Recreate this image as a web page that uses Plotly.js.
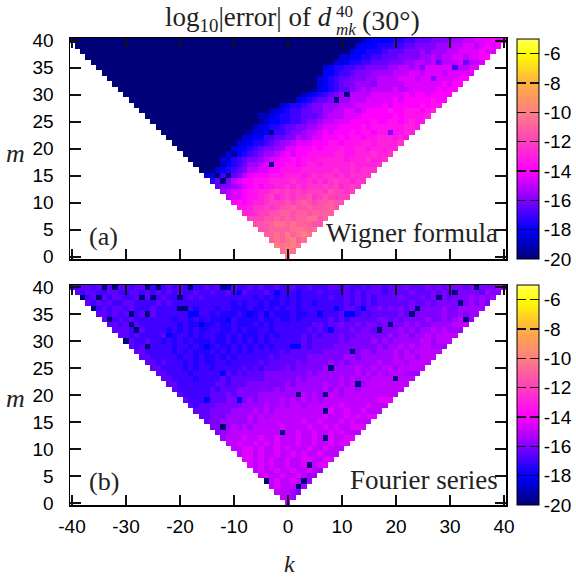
<!DOCTYPE html>
<html><head><meta charset="utf-8">
<script src="https://cdn.plot.ly/plotly-3.0.1.min.js"></script>
<style>html,body{margin:0;padding:0;background:#fff}
.cbaxis path.ticks{stroke-dasharray:9 4 9}</style></head>
<body><div id="plot" style="width:576px;height:579px"></div>
<script>
// one character per cell, base 36: value = -20 + char/2; rows run from m=40 down to m=0
var wignerRows=["2344445566777888899aabbbcbc","344455566778888999aabbabcbc","344555677788898999aabbbbcbb","33445566777888899a9aabbabbcc","334556677788899aa9abaaabbaab","34556677888899aa9aabbbbbbaabb","4456678889999aaabbabbbabbbbb","34567788899aaaabbbabbbbbbbcc","34567889999aaaaabbbbbbbcbcc","34567789a9aaaabaabbbbbcbcc","23456789aaaaabbbbbbcbccbcccc","3456778899aaabbbbbcbcccccdcc","34556788999aaabbbbbcbcccccdcdd","234566778899aabbabccccdccdddcde","2234556677789aaabbbccccccdcdddde","234455667889aabbbccccdccddcdedd","234556778899abbbccccdcddddddeed","23345667889aabcbcccdcddcddeddee","3344667788a9abbcccdcddcddeeeded","3345567899abbbcccddcdddeedeeeef","3445678899bbcccdcdddeddeedeeeee","344567899abcbccdddddeeddeeefeef","33567889abbccdcdddeeeeedeeefeef","2456799abbccddcdeedeeeeefeeeef","345678aabbccddddeeeeeefeefefff","3346778abcccdddeeedefeffefeffff","35788abccdddeeeefeefefefgffeff","7889abcdcddeefefefffgfgefgf","9abbcddeefgfgfgfgggfhggfg","abbcddefgefgfgghfghgggg","cdcdeefggghghihghhihh","ddeffgfghhihhihhiih","eefgghhiihiihiiii","ggghhihihiijjhi","hhiijjijiiihh","hhiiiijjjij","iijikijkj","ijijkij","kjkkj","jkj","k"];
var fourierRows=["76776767677677767676767667677676676766766766766677676676776777877787878887898889","7677667766776767676766766766766766676566656667666676767776777787778787888887988","76777677667676676666767666666666565656565666667667676767777877787888788898989","767676677666676766666666666565665655656566566666767676777777877878888889898","7676776766676666656566656655565565656656666667677677787878788888898899","77676766767666666566656555654565655565566666676767677777878888889889899","776767666666656656565554655556556556566666767677777887878888988989a9","7767676666666565565565565556565666666677677877878878888989889999a","77766766665656565566556565566566666676767777878878888989899a9a9","776766667656656566556565556565666676767778778888889899899a9aa","7766766565656555655656565656666667677777878888989899999aa9a","76776666566565656556565656566676767777888888889899a9a9aa9","776666656565556565656566666767777778888888998999a9a9aaa","77666665665655656566666676777778888888998999999a9aa9a","7767666565655665666667677777878888989899999a99aa9aa","77666656566566666767677778788888989999a99a9aa9aa","7766665666666767677788888888989999999a9a9a9aaa9","776666566667677777788888898999999a9a9a9aaaaaaa","77666666677677788888889899999a99a9aa9aaaaaaa","7666666767778888888989999999a9a9aa9aaaaaaa","76666677787888899999999a9a9aaa9aaaaaaaa","766677778888989999a9a9a9a9aaaaaaaaaab","76777888889999a99a9aa9aaaaaabaaaaba","77788889999a9a9aaaaaaaaaabaabaaba","778889999a9a9aaaaaaaaaabaaababab","78899999a9aaaaaaaabaabaaababa","8899a9a9aaaaabaaaabaababaab","899aaaaaaaaabaabaabaababa","9aaabaabaabaaabaabaabaab","aabaabababaaabaabaabab","aabbabaababaaabaabaa","abbabaabaababaabaa","bbababaabaabbaab","bababaabaabaab","abaabaabaaba9","abaabaaba99","aabaaba99","abaaa99","aaa98","aa9","a"];
// isolated cells: [k, m, value]
var wignerSpots=[[-3,17,-20],[-3,23,-20],[-5,25,-19.5],[-10,19,-19.5],[-13,15,-20],[-11,15,-20],[-12,14,-20],[11,30,-20],[9,29,-20],[5,31,-19.5],[19,23,-16],[28,36,-16.5],[27,33,-16],[31,35,-17],[33,36,-16.5],[25,35,-16],[16,32,-16]];
var fourierSpots=[[-34,40,-20],[-32,40,-20],[-26,40,-20],[-24,40,-20],[-18,40,-20],[-12,40,-19.5],[-11,40,-19],[-38,38,-20],[-35,38,-20],[-27,38,-20],[-25,38,-20],[-20,38,-20],[-36,36,-20],[-20,36,-20],[-19,36,-20],[-29,35,-20],[-26,35,-20],[-33,34,-20],[-29,33,-20],[-28,32,-20],[-30,30,-20],[-26,29,-20],[-12,14,-20],[-1,13,-20],[-4,4,-20],[35,40,-20],[31,39,-20],[28,38,-20],[32,37,-20],[24,36,-20],[23,35,-20],[33,34,-20],[19,33,-20],[17,32,-20],[12,28,-20],[8,25,-20],[20,23,-20],[13,22,-20],[2,20,-20],[7,20,-20],[7,17,-20],[7,12,-20],[4,7,-20],[3,4,-20],[2,3,-20],
[-18,35,-18],[-17,35,-18],[-22,31,-18],[-9,39,-18],[-2,39,-18],[-15,29,-18],[-12,24,-18],[-16,33,-18.5],[-4,35,-18],[-9,19,-18],[-15,19,-18],[9,36,-18],[11,35,-18],[12,35,-18],[14,36,-18],[1,29,-18],[2,29,-18],[6,35,-18],[8,32,-18]];
var kValues=[];for(var i=-40;i<=40;i++)kValues.push(i);
var mValues=[];for(var j=0;j<=40;j++)mValues.push(j);
var xTicks=[-40,-30,-20,-10,0,10,20,30,40];
var mTicks=[0,5,10,15,20,25,30,35,40];
var barTicks=[-20,-18,-16,-14,-12,-10,-8,-6];
var palette=[[0,'#000078'],[0.133,'#0000ff'],[0.4,'#ff00ff'],[0.667,'#ff7f7f'],[0.8,'#ffb040'],[0.933,'#ffff00'],[1,'#ffff60']];

function grid(rows,spots,alignRight){
  var z=mValues.map(function(){return kValues.map(function(){return null;});});
  rows.forEach(function(r,idx){
    var m=40-idx,n=2*m+1,s=r;
    if(alignRight){ s=s.slice(-n); while(s.length<n) s='0'+s; }
    else { s=s.slice(0,n); while(s.length<n) s=s+s[s.length-1]; }
    for(var c=0;c<n;c++) z[m][40-m+c]=parseInt(s[c],36)/2-20;
  });
  spots.forEach(function(p){z[p[1]][p[0]+40]=p[2];});
  return z;
}
var W=576,H=579;
function fy(px){return 1-px/H;}
var tickFont={family:'Liberation Sans, Arial, sans-serif',size:19,color:'#000'};
function cb(top,bottom){return {x:517/W,xanchor:'left',xpad:0,y:fy(bottom),yanchor:'bottom',ypad:0,thickness:22,thicknessmode:'pixels',len:bottom-top,lenmode:'pixels',tickmode:'array',tickvals:barTicks,ticktext:barTicks.map(String),ticks:'inside',ticklen:22,tickcolor:'#111111',tickwidth:1.5,outlinecolor:'#000',outlinewidth:1,tickfont:tickFont,ticklabelposition:'outside'};}
var common={type:'heatmap',x:kValues,y:mValues,zmin:-20,zmax:-5,colorscale:palette,hoverongaps:false};
var traces=[
 Object.assign({},common,{z:grid(wignerRows,wignerSpots,true),xaxis:'x',yaxis:'y',colorbar:cb(39,259)}),
 Object.assign({},common,{z:grid(fourierRows,fourierSpots,false),xaxis:'x2',yaxis:'y2',colorbar:cb(285,505)})
];
function xax(show){return {domain:[70/W,506/W],range:[-40.37,40.37],tickmode:'array',tickvals:xTicks,ticktext:xTicks.map(String),showticklabels:show,ticks:'inside',ticklen:10,tickwidth:2,tickcolor:'#111111',mirror:'ticks',showline:true,linecolor:'#000',linewidth:1.5,showgrid:false,zeroline:false,tickfont:tickFont,ticklabelstandoff:4};}
function yax(top,bottom,lo,hi){return {domain:[fy(bottom),fy(top)],range:[lo,hi],tickmode:'array',tickvals:mTicks,ticktext:mTicks.map(String),ticks:'inside',ticklen:11,tickwidth:2,tickcolor:'#111111',mirror:'ticks',showline:true,linecolor:'#000',linewidth:1.5,showgrid:false,zeroline:false,tickfont:tickFont,ticklabelstandoff:11};}
function note(text,px,py,anchor,size,style){return {xref:'paper',yref:'paper',x:px/W,y:fy(py),xanchor:anchor,yanchor:'middle',showarrow:false,align:'left',text:text,borderpad:0,font:{family:'Liberation Serif, Times New Roman, serif',size:size,color:'#222'}};}
var layout={width:W,height:H,margin:{l:0,r:0,t:0,b:0,autoexpand:false},paper_bgcolor:'#fff',plot_bgcolor:'#fff',showlegend:false,
 xaxis:xax(false),yaxis:yax(38,259,-0.43,40.5),
 xaxis2:Object.assign(xax(true),{anchor:'y2'}),yaxis2:Object.assign(yax(285,505,-0.37,40.37),{anchor:'x2'}),
 annotations:[
  note('log<sub>10</sub>|error| of <i>d</i>',333,19,'right',27),
  note('40',335,12,'left',17),
  note('<i>mk</i>',335,30,'left',17),
  note('(30°)',361,20,'left',28),
  note('<i>m</i>',15,153,'center',26),
  note('<i>m</i>',15,398,'center',26),
  note('<i>k</i>',289,563.5,'center',24),
  note('(a)',88,236,'left',26),
  note('(b)',88,481,'left',26),
  note('Wigner formula',499,233,'right',27),
  note('Fourier series',499,480,'right',27)
 ]};
Plotly.newPlot('plot',traces,layout,{staticPlot:true,displayModeBar:false});
</script></body></html>
